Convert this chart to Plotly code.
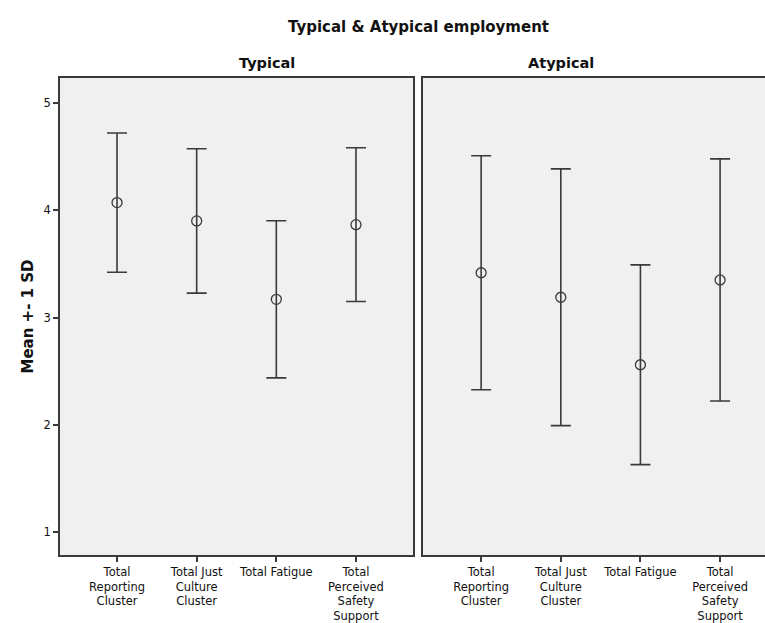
import plotly.graph_objects as go

# Scale names and their multi-line axis labels
categories = ["Total Reporting Cluster", "Total Just Culture Cluster",
              "Total Fatigue", "Total Perceived Safety Support"]
tick_labels = ["Total<br>Reporting<br>Cluster", "Total Just<br>Culture<br>Cluster",
               "Total Fatigue", "Total<br>Perceived<br>Safety<br>Support"]

# Group means and standard deviations
typical_mean = [4.07, 3.90, 3.17, 3.865]
typical_sd = [0.648, 0.672, 0.731, 0.716]
atypical_mean = [3.417, 3.189, 2.561, 3.35]
atypical_sd = [1.089, 1.195, 0.93, 1.127]

y_ticks = [1, 2, 3, 4, 5]

FONT = "DejaVu Sans, Arial, sans-serif"
INK = "#3a3a3a"

fig = go.Figure()

for means, sds, xa, ya in [(typical_mean, typical_sd, "x", "y"),
                           (atypical_mean, atypical_sd, "x2", "y2")]:
    fig.add_trace(go.Scatter(
        x=list(range(len(categories))), y=means,
        mode="markers",
        marker=dict(symbol="circle-open", size=10, color=INK, line=dict(width=1.3, color=INK)),
        error_y=dict(type="data", array=sds, visible=True, color=INK, thickness=1.6, width=10),
        xaxis=xa, yaxis=ya, showlegend=False,
        hovertext=categories,
    ))

L, R, T, B = 60, 0, 78, 65
W, H = 765, 623
plot_w = W - L - R
gap = 10
panel_w = 353

x_common = dict(
    tickmode="array", tickvals=list(range(len(categories))), ticktext=tick_labels,
    ticks="outside", ticklen=5, tickwidth=1.5, tickcolor=INK,
    showgrid=False, zeroline=False, showline=True, linecolor=INK, linewidth=1.5,
    tickfont=dict(family=FONT, size=11.5, color="#111"),
)
y_common = dict(
    range=[0.79, 5.23], tickvals=y_ticks, ticktext=[str(v) for v in y_ticks],
    ticks="outside", ticklen=5, tickwidth=1.5, tickcolor=INK,
    showgrid=False, zeroline=False, showline=True, linecolor=INK, linewidth=1.5,
    tickfont=dict(family=FONT, size=11.5, color="#111"),
)

fig.update_layout(
    width=W, height=H,
    margin=dict(l=L, r=R, t=T, b=B),
    paper_bgcolor="white",
    plot_bgcolor="#F0F0F0",
    font=dict(family=FONT, color="#111"),
    xaxis=dict(x_common, domain=[0, panel_w / plot_w], range=[-0.716, 3.716],
               mirror=True, anchor="y"),
    yaxis=dict(y_common, mirror=True, anchor="x",
               title=dict(text="<b>Mean +- 1 SD</b>", font=dict(family=FONT, size=15, color="#111"),
                          standoff=6)),
    xaxis2=dict(x_common, domain=[(panel_w + gap) / plot_w, 1], range=[-0.73, 3.564],
                mirror=True, anchor="y2"),
    yaxis2=dict(y_common, anchor="x2", showticklabels=False, ticks="", mirror=False),
    annotations=[
        dict(text="<b>Typical & Atypical employment</b>", x=(419 - L) / plot_w, y=1,
             xref="paper", yref="paper", yanchor="middle", yshift=T - 27, showarrow=False,
             font=dict(family=FONT, size=15, color="#111")),
        dict(text="<b>Typical</b>", x=(237 - L) / plot_w, y=1,
             xref="paper", yref="paper", yanchor="middle", yshift=T - 63, showarrow=False,
             font=dict(family=FONT, size=14.5, color="#111")),
        dict(text="<b>Atypical</b>", x=(596 - L) / plot_w, y=1,
             xref="paper", yref="paper", yanchor="middle", yshift=T - 63, showarrow=False,
             font=dict(family=FONT, size=14.5, color="#111")),
    ],
)

fig.write_html("out.html")
